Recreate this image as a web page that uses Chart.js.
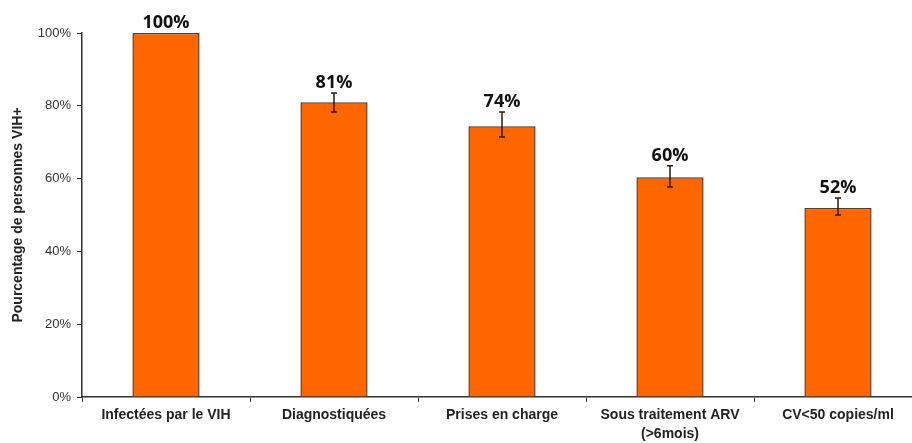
<!DOCTYPE html>
<html>
<head>
<meta charset="utf-8">
<script src="https://cdn.jsdelivr.net/npm/chart.js@4/dist/chart.umd.min.js"></script>
<style>
    html, body { margin: 0; padding: 0; background: #fff; overflow: hidden; }
    #wrap { width: 935px; height: 443px; }
</style>
</head>
<body>
<div id="wrap"><canvas id="cascadeChart"></canvas></div>
<script>
const categories = [
    'Infectées par le VIH',
    'Diagnostiquées',
    'Prises en charge',
    ['Sous traitement ARV', '(>6mois)'],
    'CV<50 copies/ml',
];
const percentages = [100, 81, 74.4, 60.4, 51.9];
const valueLabels = ['100%', '81%', '74%', '60%', '52%'];
const errorLow = [null, 78.3, 71.4, 57.7, 50.0];
const errorHigh = [null, 83.5, 78.3, 63.5, 54.7];
const yTicks = [0, 20, 40, 60, 80, 100];

const errorBarPlugin = {
    id: 'errorBars',
    afterDatasetsDraw(chart) {
        const { ctx } = chart;
        const meta = chart.getDatasetMeta(0);
        const y = chart.scales.y;
        ctx.save();
        meta.data.forEach((bar, i) => {
            let top = bar.y;
            if (errorLow[i] !== null) {
                const yLow = y.getPixelForValue(errorLow[i]);
                const yHigh = y.getPixelForValue(errorHigh[i]);
                ctx.strokeStyle = '#2a1a10';
                ctx.lineWidth = 1.5;
                ctx.beginPath();
                ctx.moveTo(bar.x, yLow);
                ctx.lineTo(bar.x, yHigh);
                ctx.moveTo(bar.x - 3, yLow);
                ctx.lineTo(bar.x + 3, yLow);
                ctx.moveTo(bar.x - 3, yHigh);
                ctx.lineTo(bar.x + 3, yHigh);
                ctx.stroke();
                top = Math.min(top, yHigh);
            }
            ctx.fillStyle = '#111';
            ctx.font = 'bold 18px "Open Sans", sans-serif';
            ctx.textAlign = 'center';
            ctx.textBaseline = 'bottom';
            ctx.fillText(valueLabels[i], bar.x, top - 1);
        });
        ctx.restore();
    },
};

new Chart(document.getElementById('cascadeChart'), {
    type: 'bar',
    data: {
        labels: categories,
        datasets: [
            {
                data: percentages,
                backgroundColor: '#ff6600',
                borderColor: '#5a3a22',
                borderWidth: 1.5,
                barPercentage: 0.4,
                categoryPercentage: 1,
            },
        ],
    },
    options: {
        responsive: true,
        maintainAspectRatio: false,
        animation: false,
        layout: {
            padding: { top: 33, right: 13, bottom: 0, left: 0 },
        },
        plugins: {
            legend: { display: false },
            tooltip: { enabled: false },
        },
        scales: {
            x: {
                afterFit(scale) { scale.height = 46; },
                border: { color: '#333', width: 1.5 },
                grid: {
                    offset: true,
                    drawOnChartArea: false,
                    tickLength: 5,
                    color: '#333',
                },
                ticks: {
                    color: '#222',
                    padding: 4,
                    maxRotation: 0,
                    autoSkip: false,
                    font: { family: '"Liberation Sans", Arial, sans-serif', size: 14, weight: 'bold', lineHeight: 1.35 },
                },
            },
            y: {
                min: 0,
                max: 100,
                afterFit(scale) { scale.width = 82; },
                afterBuildTicks(scale) {
                    scale.ticks = yTicks.map((v) => ({ value: v }));
                },
                border: { color: '#333', width: 1.5 },
                grid: {
                    drawOnChartArea: false,
                    tickLength: 5,
                    color: '#333',
                },
                ticks: {
                    color: '#333',
                    padding: 6,
                    callback: (v) => v + '%',
                    font: { family: '"Liberation Sans", Arial, sans-serif', size: 13 },
                },
                title: {
                    display: true,
                    text: 'Pourcentage de personnes VIH+',
                    color: '#222',
                    padding: { top: 10, bottom: 0 },
                    font: { family: '"Liberation Sans", Arial, sans-serif', size: 14, weight: 'bold' },
                },
            },
        },
    },
    plugins: [errorBarPlugin],
});
</script>
</body>
</html>
